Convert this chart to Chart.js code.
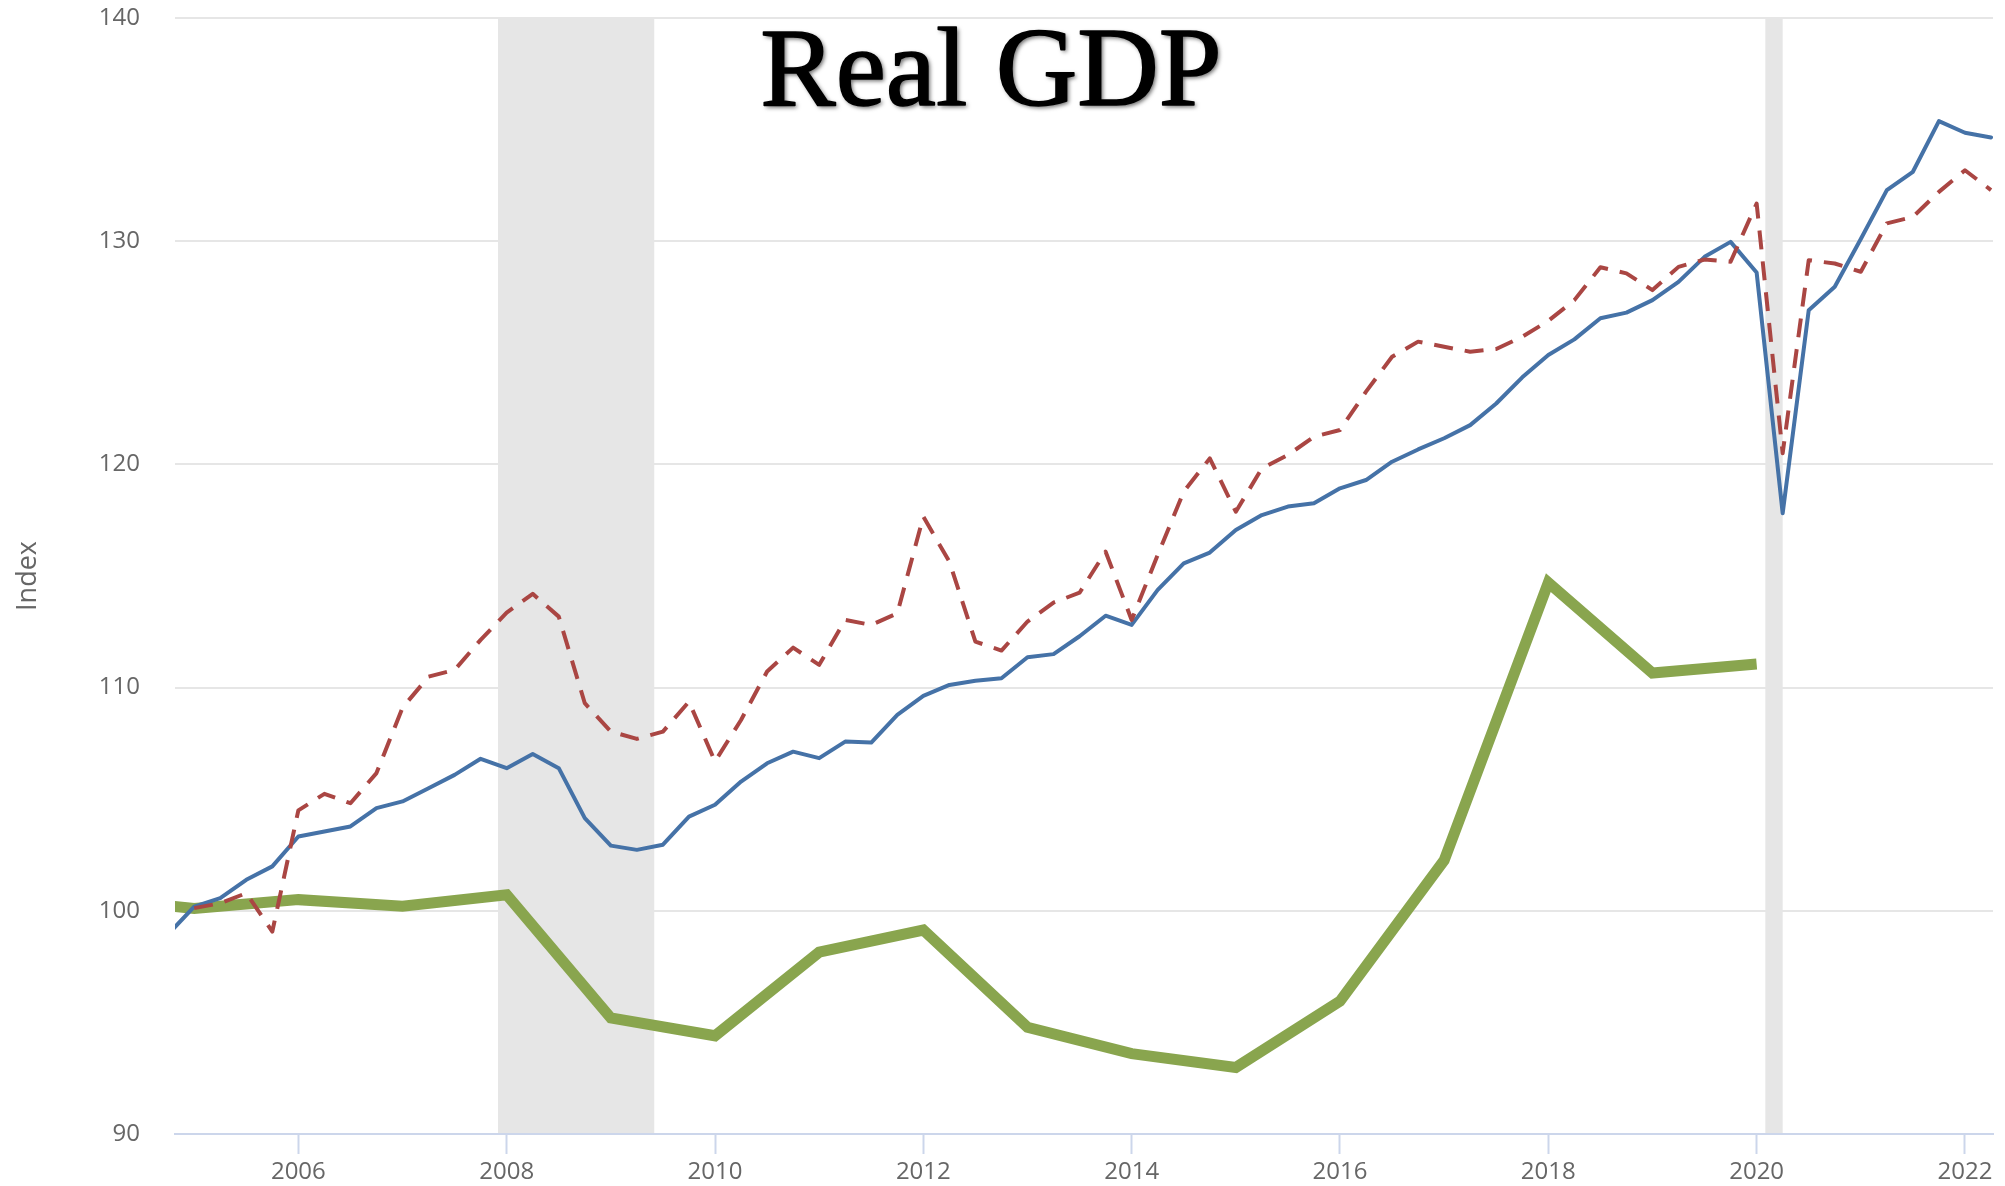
<!DOCTYPE html>
<html>
<head>
<meta charset="utf-8">
<script src="https://cdn.jsdelivr.net/npm/chart.js@4.4.0/dist/chart.umd.min.js"></script>
<style>
  html, body { margin: 0; padding: 0; background: #ffffff; }
  #wrap { width: 2005px; height: 1186px; position: relative; }
</style>
</head>
<body>
<div id="wrap"><canvas id="c" width="2005" height="1186"></canvas></div>
<script>
// ---------- DATA ----------
const chartTitle = 'Real GDP';
const yAxisTitle = 'Index';

const quarters = [
  '2004-10',
  '2005-01','2005-04','2005-07','2005-10',
  '2006-01','2006-04','2006-07','2006-10',
  '2007-01','2007-04','2007-07','2007-10',
  '2008-01','2008-04','2008-07','2008-10',
  '2009-01','2009-04','2009-07','2009-10',
  '2010-01','2010-04','2010-07','2010-10',
  '2011-01','2011-04','2011-07','2011-10',
  '2012-01','2012-04','2012-07','2012-10',
  '2013-01','2013-04','2013-07','2013-10',
  '2014-01','2014-04','2014-07','2014-10',
  '2015-01','2015-04','2015-07','2015-10',
  '2016-01','2016-04','2016-07','2016-10',
  '2017-01','2017-04','2017-07','2017-10',
  '2018-01','2018-04','2018-07','2018-10',
  '2019-01','2019-04','2019-07','2019-10',
  '2020-01','2020-04','2020-07','2020-10',
  '2021-01','2021-04','2021-07','2021-10',
  '2022-01','2022-04'
];

// solid blue series (quarterly)
const blueValues = [
  98.95,
  100.19, 100.57, 101.39, 101.99,
  103.33, 103.55, 103.78, 104.60,
  104.90, 105.49, 106.09, 106.81,
  106.39, 107.02, 106.39, 104.15,
  102.92, 102.73, 102.96, 104.22,
  104.75, 105.79, 106.61, 107.13,
  106.84, 107.58, 107.54, 108.78,
  109.63, 110.12, 110.31, 110.42,
  111.36, 111.50, 112.30, 113.22,
  112.81, 114.38, 115.57, 116.05,
  117.06, 117.73, 118.11, 118.26,
  118.93, 119.30, 120.12, 120.67,
  121.17, 121.76, 122.73, 123.90,
  124.90, 125.60, 126.55, 126.80,
  127.36, 128.18, 129.30, 129.97,
  128.60, 117.81, 126.91, 127.96,
  130.10, 132.29, 133.11, 135.38,
  134.86, 134.65
];

// dashed red series (quarterly, starts 2005-Q1)
const redValues = [
  null,
  100.12, 100.34, 100.79, 99.07,
  104.50, 105.24, 104.82, 106.17,
  109.10, 110.49, 110.79, 112.14,
  113.36, 114.20, 113.18, 109.30,
  108.03, 107.70, 108.03, 109.37,
  106.69, 108.55, 110.72, 111.79,
  111.02, 113.03, 112.81, 113.33,
  117.66, 115.64, 112.06, 111.66,
  112.96, 113.81, 114.25, 116.09,
  113.03, 115.94, 118.78, 120.27,
  117.88, 119.82, 120.42, 121.24,
  121.54, 123.26, 124.82, 125.50,
  125.27, 125.05, 125.17, 125.72,
  126.43, 127.36, 128.83, 128.56,
  127.81, 128.85, 129.18, 129.08,
  131.69, 120.50, 129.15, 129.00,
  128.63, 130.80, 131.09, 132.21,
  133.18, 132.29
];

// thick green series (annual)
const greenYears  = [2004, 2005, 2006, 2007, 2008, 2009, 2010, 2011, 2012, 2013, 2014, 2015, 2016, 2017, 2018, 2019, 2020];
const greenValues = [100.6, 100.1, 100.5, 100.2, 100.72, 95.2, 94.4, 98.15, 99.14, 94.78, 93.6, 92.98, 95.95, 102.26, 114.7, 110.65, 111.06];

// recession periods (shaded)
const recessionStarts = ['2007-12', '2020-02'];
const recessionEnds   = ['2009-06', '2020-04'];

// axis
const xTickYears = [2006, 2008, 2010, 2012, 2014, 2016, 2018, 2020, 2022];
const yTickValues = [90, 100, 110, 120, 130, 140];
const xRange = ['2004-10-25', '2022-04-08'];

// ---------- helpers ----------
function monthToYear(s) {
  const p = s.split('-').map(Number);
  const y = p[0], m = p[1], d = p[2] || 1;
  return y + (m - 1) / 12 + (d - 1) / 365;
}

const blueData  = quarters.map((q, i) => ({ x: monthToYear(q), y: blueValues[i] }));
const redData   = quarters.map((q, i) => ({ x: monthToYear(q), y: redValues[i] }));
const greenData = greenYears.map((yr, i) => ({ x: yr, y: greenValues[i] }));

const recessionPlugin = {
  id: 'recessions',
  beforeDatasetsDraw(chart) {
    const { ctx, chartArea, scales } = chart;
    ctx.save();
    ctx.fillStyle = '#e6e6e6';
    for (let i = 0; i < recessionStarts.length; i++) {
      const x1 = scales.x.getPixelForValue(monthToYear(recessionStarts[i]));
      const x2 = scales.x.getPixelForValue(monthToYear(recessionEnds[i]));
      ctx.fillRect(x1, chartArea.top - 1, x2 - x1, chartArea.bottom - chartArea.top);
    }
    ctx.restore();
  }
};

const titlePlugin = {
  id: 'overlayTitle',
  afterDraw(chart) {
    const ctx = chart.ctx;
    ctx.save();
    ctx.font = '113px "Liberation Serif", "Times New Roman", serif';
    ctx.textAlign = 'center';
    ctx.textBaseline = 'alphabetic';
    ctx.shadowColor = 'rgba(0,0,0,0.6)';
    ctx.shadowBlur = 4;
    ctx.shadowOffsetX = 2;
    ctx.shadowOffsetY = 2;
    ctx.fillStyle = '#000000';
    ctx.strokeStyle = '#000000';
    ctx.lineWidth = 1.6;
    ctx.lineJoin = 'round';
    ctx.fillText(chartTitle, 991, 105);
    ctx.shadowColor = 'rgba(0,0,0,0)';
    ctx.strokeText(chartTitle, 991, 105);
    ctx.restore();
  }
};

const tickFont = { family: '"Open Sans", "DejaVu Sans", sans-serif', size: 24 };

new Chart(document.getElementById('c'), {
  type: 'line',
  data: {
    datasets: [
      {
        label: 'Dashed',
        data: redData,
        borderColor: '#aa4643',
        borderWidth: 4,
        borderDash: [19, 12],
        borderCapStyle: 'butt',
        borderJoinStyle: 'round',
        pointRadius: 0,
        fill: false,
        tension: 0,
        spanGaps: false,
        clip: 0,
        order: 0
      },
      {
        label: 'Real GDP',
        data: blueData,
        borderColor: '#4572a7',
        borderWidth: 4,
        borderCapStyle: 'round',
        borderJoinStyle: 'round',
        pointRadius: 0,
        fill: false,
        tension: 0,
        clip: 0,
        order: 1
      },
      {
        label: 'Annual',
        data: greenData,
        borderColor: '#89a54e',
        borderWidth: 11,
        borderCapStyle: 'butt',
        borderJoinStyle: 'miter',
        pointRadius: 0,
        fill: false,
        tension: 0,
        clip: 0,
        order: 2
      }
    ]
  },
  options: {
    responsive: false,
    animation: false,
    devicePixelRatio: 1,
    layout: { padding: { top: 18, right: 12, left: 0, bottom: 0 } },
    plugins: {
      legend: { display: false },
      tooltip: { enabled: false },
      title: { display: false }
    },
    scales: {
      x: {
        type: 'linear',
        min: monthToYear(xRange[0]),
        max: monthToYear(xRange[1]),
        afterBuildTicks(scale) { scale.ticks = xTickYears.map(v => ({ value: v })); },
        afterFit(scale) {
          scale.height = 52;
          scale.paddingLeft = 0; scale.paddingRight = 0;
        },
        ticks: {
          font: tickFont,
          color: '#666666',
          padding: 4,
          maxRotation: 0,
          autoSkip: false,
          callback: v => String(v)
        },
        grid: {
          drawOnChartArea: false,
          drawTicks: true,
          tickLength: 20,
          tickWidth: 2,
          color: '#ccd6eb'
        },
        border: { display: true, color: '#ccd6eb', width: 2 }
      },
      y: {
        type: 'linear',
        min: 90,
        max: 140,
        afterBuildTicks(scale) { scale.ticks = yTickValues.map(v => ({ value: v })); },
        afterFit(scale) {
          scale.width = 175;
          scale.paddingTop = 0; scale.paddingBottom = 0;
        },
        ticks: {
          font: tickFont,
          color: '#666666',
          padding: 35,
          callback: v => String(v)
        },
        grid: {
          drawTicks: false,
          color: '#e6e6e6',
          lineWidth: 2
        },
        border: { display: false },
        title: {
          display: true,
          text: yAxisTitle,
          color: '#666666',
          font: { family: '"Open Sans", "DejaVu Sans", sans-serif', size: 27 },
          padding: { top: 12, bottom: 0 }
        }
      }
    }
  },
  plugins: [recessionPlugin, titlePlugin]
});
</script>
</body>
</html>
